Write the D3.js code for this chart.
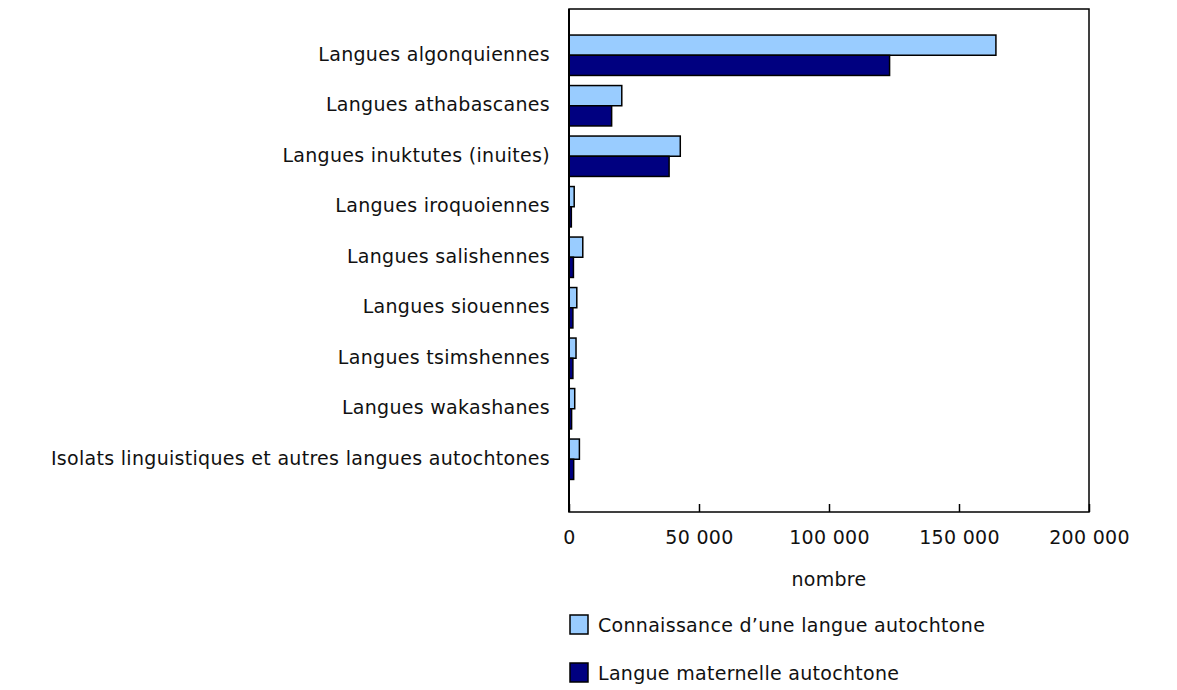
<!DOCTYPE html>
<html>
<head>
<meta charset="utf-8">
<script src="https://cdn.jsdelivr.net/npm/d3@7"></script>
<style>
  body { margin: 0; background: #fff; }
  text { font-family: "DejaVu Sans", Verdana, sans-serif; fill: #111; letter-spacing: 0.3px; }
</style>
</head>
<body>
<div id="chart"></div>
<script>
// data
var categories = [
    'Langues algonquiennes',
    'Langues athabascanes',
    'Langues inuktutes (inuites)',
    'Langues iroquoiennes',
    'Langues salishennes',
    'Langues siouennes',
    'Langues tsimshennes',
    'Langues wakashanes',
    'Isolats linguistiques et autres langues autochtones'
];
var connaissance = [164200, 20300, 42800, 2000, 5300, 3000, 2700, 2200, 4000];
var maternelle   = [123300, 16400, 38500, 900, 1700, 1500, 1500, 1000, 1800];
var seriesNames  = ['Connaissance d\u2019une langue autochtone', 'Langue maternelle autochtone'];
var seriesColors = ['#99CCFF', '#000080'];
var xTicks       = [0, 50000, 100000, 150000, 200000];

var chart_width  = 1177;
var chart_height = 690;
var plot_left    = 569, plot_right = 1089, plot_top = 9, plot_bottom = 512;
var font_size    = 19;

var svg = d3.select('#chart')
    .append('svg')
    .attr('width', chart_width)
    .attr('height', chart_height);

var x = d3.scaleLinear()
    .domain([0, 200000])
    .range([plot_left, plot_right]);

var y = d3.scaleBand()
    .domain(categories)
    .range([30, 484.5])
    .paddingInner(0.2)
    .paddingOuter(0.1);

var y2 = d3.scaleBand()
    .domain([0, 1])
    .range([0, y.bandwidth()]);

var fmt = function(d){
    return d3.format(',')(d).replace(/,/g, ' ');
};

// frame
svg.append('rect')
    .attr('x', plot_left)
    .attr('y', plot_top)
    .attr('width', plot_right - plot_left)
    .attr('height', plot_bottom - plot_top)
    .attr('fill', 'none')
    .attr('stroke', '#000')
    .attr('stroke-width', 1.5);

// bars
var series = [connaissance, maternelle];
series.forEach(function(vals, s){
    svg.append('g')
        .selectAll('rect')
        .data(vals)
        .enter()
        .append('rect')
        .attr('x', x(0))
        .attr('y', function(d, i){ return y(categories[i]) + y2(s); })
        .attr('width', function(d){ return x(d) - x(0); })
        .attr('height', y2.bandwidth())
        .attr('fill', seriesColors[s])
        .attr('stroke', '#000')
        .attr('stroke-width', 1.5);
});

// left axis line drawn on top of bars
svg.append('line')
    .attr('x1', plot_left).attr('x2', plot_left)
    .attr('y1', plot_top).attr('y2', plot_bottom)
    .attr('stroke', '#000')
    .attr('stroke-width', 2);

// category labels
svg.append('g')
    .selectAll('text')
    .data(categories)
    .enter()
    .append('text')
    .attr('x', plot_left - 19)
    .attr('y', function(d){ return y(d) + y.bandwidth() / 2; })
    .attr('text-anchor', 'end')
    .attr('dominant-baseline', 'middle')
    .attr('font-size', font_size)
    .text(function(d){ return d; });

// x axis
var xAxis = d3.axisBottom(x)
    .tickValues(xTicks)
    .tickSize(-8)
    .tickFormat(fmt);

var gx = svg.append('g')
    .attr('transform', 'translate(0,' + plot_bottom + ')')
    .call(xAxis);
gx.select('.domain').remove();
gx.selectAll('line').attr('stroke', '#000').attr('stroke-width', 1.5);
gx.selectAll('text')
    .attr('y', 19)
    .attr('font-size', font_size)
    .attr('font-family', '"DejaVu Sans", Verdana, sans-serif')
    .attr('fill', '#111');

svg.append('text')
    .attr('x', (plot_left + plot_right) / 2)
    .attr('y', 586)
    .attr('text-anchor', 'middle')
    .attr('font-size', font_size)
    .text('nombre');

// legend
var legend = svg.append('g')
    .selectAll('g')
    .data(seriesNames)
    .enter()
    .append('g')
    .attr('transform', function(d, i){ return 'translate(570,' + (615 + i * 48) + ')'; });

legend.append('rect')
    .attr('width', 18)
    .attr('height', 19)
    .attr('fill', function(d, i){ return seriesColors[i]; })
    .attr('stroke', '#000')
    .attr('stroke-width', 1.5);

legend.append('text')
    .attr('x', 28)
    .attr('y', 11)
    .attr('dominant-baseline', 'middle')
    .attr('font-size', font_size)
    .text(function(d){ return d; });
</script>
</body>
</html>
